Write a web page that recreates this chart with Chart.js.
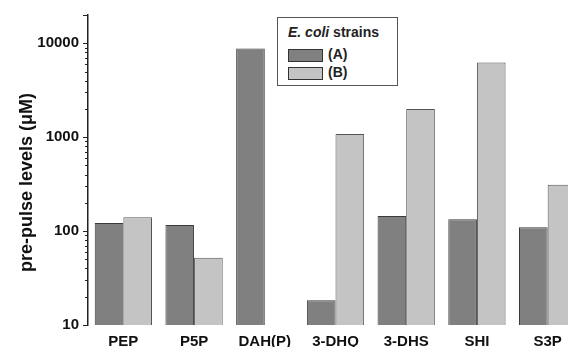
<!DOCTYPE html>
<html>
<head>
<meta charset="utf-8">
<script src="https://cdn.jsdelivr.net/npm/chart.js@4/dist/chart.umd.min.js"></script>
<style>
  html, body { margin: 0; padding: 0; background: #fff; overflow: hidden; }
  #wrap { position: relative; width: 583px; height: 347px; }
  #legend {
    position: absolute; left: 277px; top: 17px; width: 119px; height: 67px;
    border: 1px solid #555; background: #fff;
    font-family: "Liberation Sans", Arial, sans-serif; font-weight: bold; color: #222;
  }
  #legend .ttl { position: absolute; left: 10px; top: 6px; font-size: 14px; }
  #legend .item { position: absolute; left: 10px; font-size: 14px; height: 14px; line-height: 14px; }
  #legend .sw { display: inline-block; width: 33px; height: 11px; border: 1px solid #333; vertical-align: middle; margin-right: 5px; }
</style>
</head>
<body>
<div id="wrap">
  <canvas id="grap1" width="583" height="347"></canvas>
  <div id="legend"></div>
</div>
<script>
var categories = ["PEP", "P5P", "DAH(P)", "3-DHQ", "3-DHS", "SHI", "S3P"];
var seriesNames = ["(A)", "(B)"];
var strainA = [122, 116, 8800, 18.4, 145, 134, 110];
var strainB = [140, 52, null, 1080, 1990, 6240, 311];
var tickLabels = [10, 100, 1000, 10000];

var fillColors = ["#808080", "#c4c4c4"];
var edgeColors = ["#3a3a3a", "#555555"];

// small ticks between the decades, drawn from the y scale
var minorTicks = {
    id: "minorTicks",
    afterDraw: function (chart) {
        var y = chart.scales.y;
        var c = chart.ctx;
        c.save();
        c.strokeStyle = "#222";
        c.lineWidth = 1;
        for (var d = 10; d < 20000; d *= 10) {
            for (var k = 2; k <= 9; k++) {
                var v = d * k;
                if (v > 20000) break;
                var py = Math.round(y.getPixelForValue(v)) + 0.5;
                c.beginPath();
                c.moveTo(y.right - 3, py);
                c.lineTo(y.right, py);
                c.stroke();
            }
        }
        c.restore();
    }
};

var ctx = document.getElementById("grap1").getContext("2d");
var myChart = new Chart(ctx, {
    type: "bar",
    data: {
        labels: categories,
        datasets: [{
            label: seriesNames[0],
            data: strainA,
            backgroundColor: fillColors[0],
            borderColor: edgeColors[0],
            borderWidth: 1
        }, {
            label: seriesNames[1],
            data: strainB,
            backgroundColor: fillColors[1],
            borderColor: edgeColors[1],
            borderWidth: 1
        }]
    },
    options: {
        responsive: false,
        animation: false,
        layout: { padding: { top: 15, right: 0, left: 0, bottom: 0 } },
        plugins: { legend: { display: false }, tooltip: { enabled: false } },
        datasets: { bar: { categoryPercentage: 0.81, barPercentage: 1.0 } },
        scales: {
            x: {
                grid: { display: false },
                border: { display: false },
                ticks: {
                    color: "#111",
                    padding: 0,
                    font: { family: "Liberation Sans", size: 15, weight: "bold" }
                },
                afterFit: function (s) { s.height = 22; }
            },
            y: {
                type: "logarithmic",
                min: 10,
                max: 20000,
                border: { display: true, color: "#222", width: 1.5 },
                grid: { drawOnChartArea: false, tickLength: 5, color: "#222" },
                afterBuildTicks: function (s) {
                    s.ticks = tickLabels.map(function (v) { return { value: v }; });
                    s.ticks.push({ value: 20000 });
                },
                ticks: {
                    color: "#111",
                    padding: 4,
                    autoSkip: false,
                    font: { family: "Liberation Sans", size: 15, weight: "bold" },
                    callback: function (v) { return tickLabels.indexOf(v) >= 0 ? String(v) : ""; }
                },
                title: {
                    display: true,
                    // trailing spaces nudge the rotated text down like the original
                    text: "pre-pulse levels (\u03bcM)     ",
                    color: "#111",
                    padding: { top: 16, bottom: 0 },
                    font: { family: "Liberation Sans", size: 18, weight: "bold" }
                },
                afterFit: function (s) { s.width = 88; }
            }
        }
    },
    plugins: [minorTicks]
});

var leg = document.getElementById("legend");
var html = '<div class="ttl"><i>E. coli</i> strains</div>';
for (var i = 0; i < seriesNames.length; i++) {
    html += '<div class="item" style="top:' + (29 + i * 18) + 'px"><span class="sw" style="background:' +
        fillColors[i] + '"></span>' + seriesNames[i] + '</div>';
}
leg.innerHTML = html;
</script>
</body>
</html>
